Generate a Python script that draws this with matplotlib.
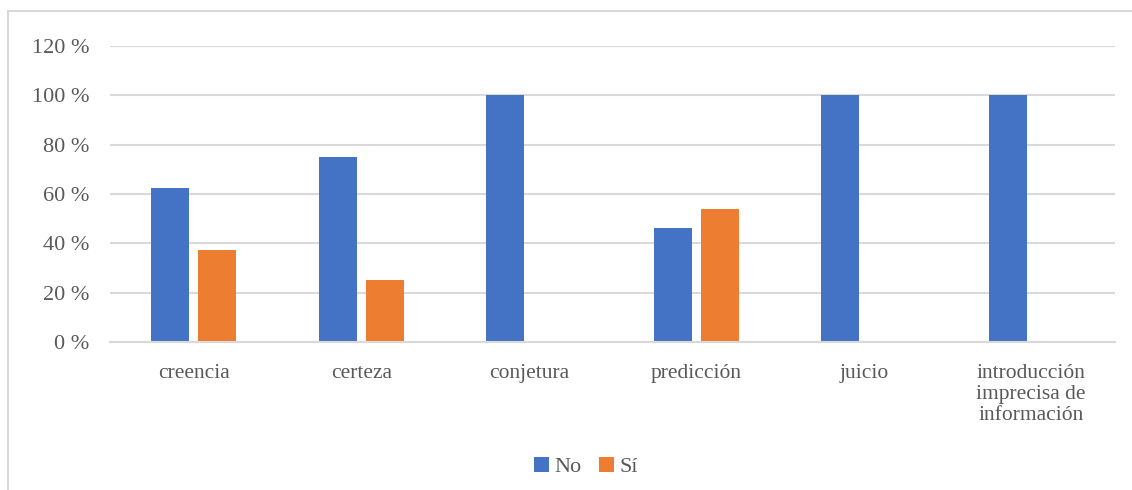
import matplotlib
matplotlib.use("Agg")
import matplotlib.pyplot as plt
import numpy as np
from matplotlib.patches import Rectangle

categories = ["creencia", "certeza", "conjetura", "predicción", "juicio",
              "introducción\nimprecisa de\ninformación"]
series_names = ["No", "Sí"]
no_values = [62.5, 75.0, 100.0, 46.15, 100.0, 100.0]
si_values = [37.5, 25.0, 0.0, 53.85, 0.0, 0.0]
y_ticks = [0, 20, 40, 60, 80, 100, 120]
y_tick_labels = ["0 %", "20 %", "40 %", "60 %", "80 %", "100 %", "120 %"]

blue = "#4472C4"
orange = "#ED7D31"
grid_c = "#D9D9D9"
text_c = "#595959"

plt.rcParams["font.family"] = ["Liberation Serif", "DejaVu Serif"]

fig = plt.figure(figsize=(11.32, 4.9), dpi=100)
ax = fig.add_axes([110 / 1132, 1 - 342 / 490, 1005 / 1132, 296 / 490])

x = np.arange(len(categories))
w = 0.228
off = 0.14
ax.bar(x - off, no_values, width=w, color=blue, label=series_names[0], zorder=3)
ax.bar(x + off, si_values, width=w, color=orange, label=series_names[1], zorder=3)

ax.set_xlim(-0.5, len(categories) - 0.5)
ax.set_ylim(0, 120)
ax.set_yticks(y_ticks)
ax.set_yticklabels(y_tick_labels, fontsize=16, color=text_c)
ax.set_xticks(x)
ax.set_xticklabels(categories, fontsize=15.5, color=text_c, linespacing=1.12, va="top")
ax.tick_params(axis="both", length=0)
ax.tick_params(axis="y", pad=15)
ax.tick_params(axis="x", pad=16)
ax.yaxis.grid(True, color=grid_c, linewidth=1.5, zorder=0)
for s in ["top", "right", "left"]:
    ax.spines[s].set_visible(False)
ax.spines["bottom"].set_color(grid_c)
ax.spines["bottom"].set_linewidth(1.5)
ax.spines["bottom"].set_zorder(4)

leg = fig.legend(loc="center", bbox_to_anchor=(586 / 1132, 1 - 467 / 490), ncol=2,
                 frameon=False, fontsize=16, handlelength=0.65, handleheight=0.65,
                 handletextpad=0.25, columnspacing=0.8)
for t in leg.get_texts():
    t.set_color(text_c)

# outer chart frame
fig.patches.append(Rectangle((8 / 1132, -0.1), 1.2, 1 - 10.5 / 490 + 0.1,
                             transform=fig.transFigure, fill=False,
                             edgecolor=grid_c, linewidth=1.5))

fig.savefig("out.png", dpi=100)
